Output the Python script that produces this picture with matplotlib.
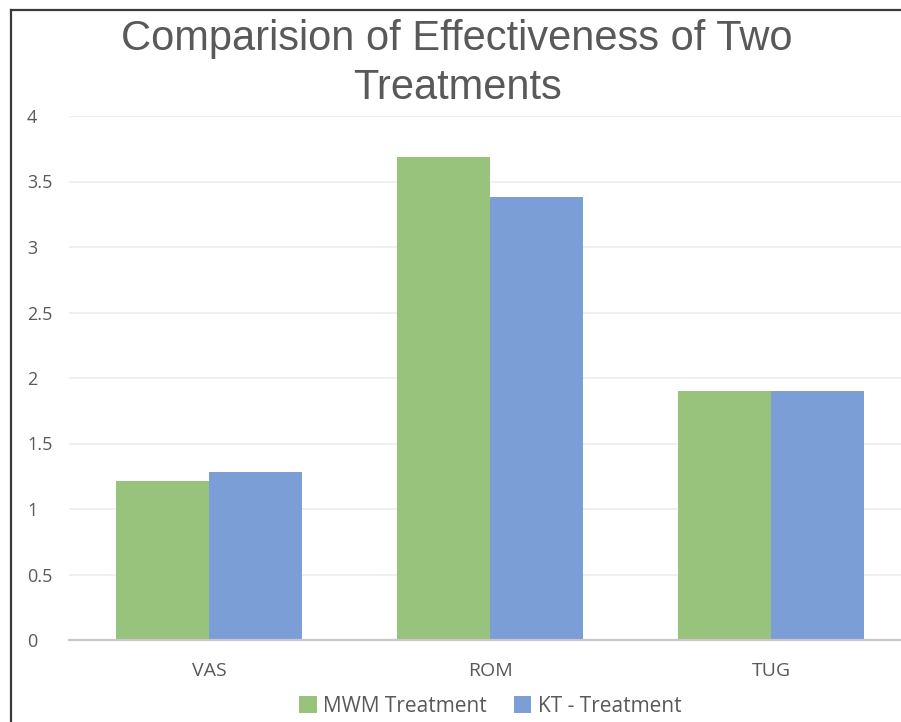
"""Bar chart comparing the effectiveness of the MWM and KT treatments."""

import matplotlib

matplotlib.use("Agg")
import matplotlib.pyplot as plt
from matplotlib.lines import Line2D
from matplotlib.patches import Patch

categories = ["VAS", "ROM", "TUG"]
mwm_values = [1.21, 3.69, 1.90]
kt_values = [1.28, 3.38, 1.90]
series_labels = ["MWM Treatment", "KT - Treatment"]
y_ticks = [0, 0.5, 1, 1.5, 2, 2.5, 3, 3.5, 4]

_GREEN = "#98c37c"
_BLUE = "#7b9ed6"
_TEXT = "#595959"
_GRID = "#ececec"

W, H, DPI = 901, 722, 100
plt.rcParams["font.family"] = ["Open Sans", "DejaVu Sans"]

fig = plt.figure(figsize=(W / DPI, H / DPI), dpi=DPI)
fig.patch.set_facecolor("white")

# plot area runs past the right edge of the canvas
left, right, bottom, top = 68.5, 911.5, 640, 116
ax = fig.add_axes([left / W, 1 - bottom / H, (right - left) / W, (bottom - top) / H])

x = list(range(len(categories)))
width = 0.331
ax.bar([i - width / 2 for i in x], mwm_values, width, color=_GREEN, zorder=2)
ax.bar([i + width / 2 for i in x], kt_values, width, color=_BLUE, zorder=2)

ax.set_xlim(-0.5, len(categories) - 0.5)
ax.set_ylim(0, 4)
ax.set_xticks(x)
ax.set_xticklabels(categories, fontsize=14, color=_TEXT)
ax.set_yticks(y_ticks)
ax.set_yticklabels([f"{t:g}" for t in y_ticks], fontsize=13, color=_TEXT)
for lbl in ax.get_yticklabels():
    lbl.set_horizontalalignment("left")
ax.tick_params(axis="y", length=0, pad=(left - 27) * 72 / DPI)
ax.tick_params(axis="x", length=0, pad=16)

ax.grid(True, axis="y", color=_GRID, linewidth=1.2, zorder=0)
for side in ("top", "right", "left"):
    ax.spines[side].set_visible(False)
ax.spines["bottom"].set_color("#c8c8c8")
ax.spines["bottom"].set_linewidth(1.6)
ax.spines["bottom"].set_zorder(3)

fig.text(457 / W, 1 - 63.5 / H, "Comparision of Effectiveness of Two\nTreatments",
         ha="center", va="center", fontsize=30, color=_TEXT,
         family=["Liberation Sans", "DejaVu Sans"], linespacing=1.28)

handles = [Patch(facecolor=_GREEN), Patch(facecolor=_BLUE)]
fig.legend(handles, series_labels, loc="center", bbox_to_anchor=(490 / W, 1 - 706 / H),
           ncol=2, frameon=False, fontsize=15, labelcolor=_TEXT,
           handlelength=0.85, handleheight=0.85, handletextpad=0.3, columnspacing=1.3)

# dark frame on the left and top edges
edge = "#3a3a3a"
fig.add_artist(Line2D([11 / W, 11 / W], [0, 1 - 9.5 / H], color=edge, linewidth=1.6))
fig.add_artist(Line2D([11 / W, 1], [1 - 9.5 / H, 1 - 9.5 / H], color=edge, linewidth=1.6))

fig.savefig("out.png", dpi=DPI)
